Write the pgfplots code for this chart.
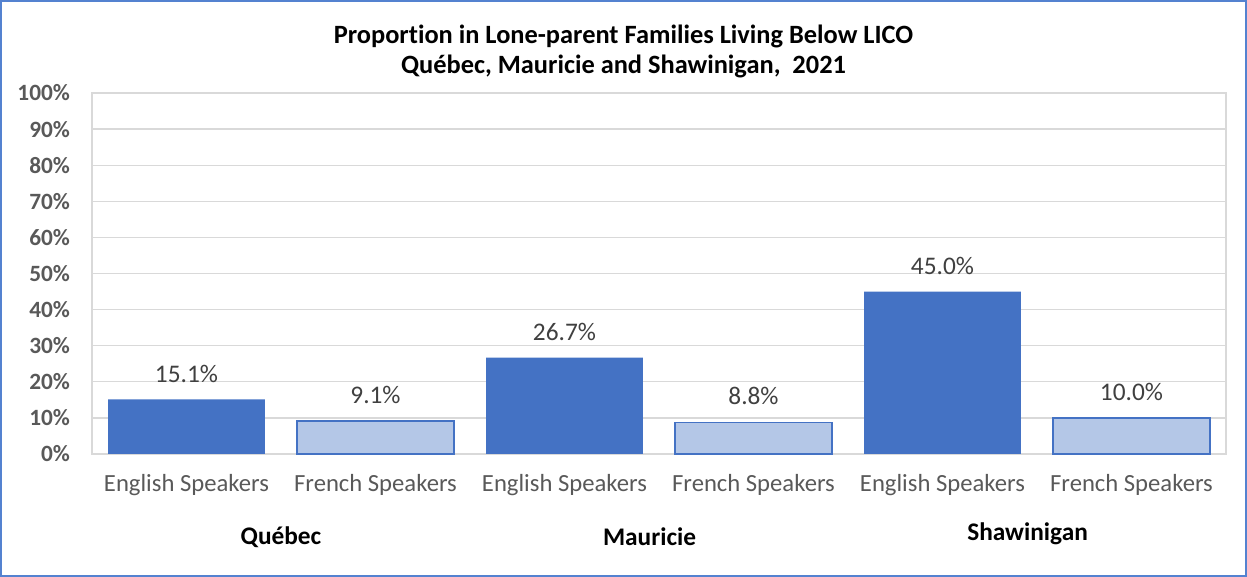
\documentclass[border=0pt]{standalone}
\usepackage{pgfplots}
\pgfplotsset{compat=1.18}
\usepackage{fontspec}
\setmainfont{Carlito}[Ligatures={NoCommon}]
\definecolor{engc}{HTML}{4472C4}
\definecolor{frc}{HTML}{B4C7E7}
\definecolor{gridc}{HTML}{D9D9D9}
\definecolor{tickc}{HTML}{595959}
\definecolor{labc}{HTML}{404040}
\definecolor{framec}{RGB}{84,130,208}
\begin{document}
\begin{tikzpicture}
\useasboundingbox (-69pt,-92.25pt) rectangle (866.25pt,340.5pt);
\draw[framec, line width=1.5pt] (-68.25pt,-91.5pt) rectangle (865.5pt,339.75pt);
\begin{axis}[
  at={(0,0)}, anchor=south west,
  scale only axis,
  width=850.5pt, height=270.75pt,
  xmin=-0.5, xmax=5.5,
  ymin=0, ymax=100,
  ytick={0,10,...,100},
  yticklabel={\pgfmathprintnumber{\tick}\%},
  /pgf/number format/assume math mode=true,
  yticklabel style={font=\fontsize{17.5}{20}\selectfont\bfseries, text=tickc, xshift=-13pt},
  xtick={0,1,2,3,4,5},
  xticklabels={English Speakers,French Speakers,English Speakers,French Speakers,English Speakers,French Speakers},
  xticklabel style={font=\fontsize{18.5}{21}\selectfont, text=tickc, yshift=-12pt},
  major tick length=0pt,
  axis line style={gridc, line width=1pt},
  ymajorgrids, grid style={gridc, line width=1pt},
  axis on top=false,
  bar width=0.83,
  ybar, bar shift=0pt,
  nodes near coords={\pgfmathprintnumber[fixed,precision=1,fixed zerofill]{\pgfplotspointmeta}\%},
  nodes near coords style={font=\fontsize{19}{22}\selectfont, text=labc, anchor=south, yshift=9pt},
  clip=false,
]
\addplot[fill=engc, draw=none] coordinates {(0,15.1) (2,26.7) (4,45.0)};
\addplot[fill=frc, draw=engc, line width=1pt] coordinates {(1,9.1) (3,8.8) (5,10.0)};
\node[font=\fontsize{19}{22}\selectfont\bfseries] at (axis cs:0.5,0) [yshift=-62.25pt] {Québec};
\node[font=\fontsize{19}{22}\selectfont\bfseries] at (axis cs:2.45,0) [yshift=-62.25pt] {Mauricie};
\node[font=\fontsize{19}{22}\selectfont\bfseries] at (axis cs:4.45,0) [yshift=-60pt] {Shawinigan};
\end{axis}
\node[font=\fontsize{19.8}{23}\selectfont\bfseries, align=center] at (398.6pt,301.9pt) {Proportion in Lone-parent Families Living Below LICO\\[0pt]Québec, Mauricie and Shawinigan, \ 2021};
\end{tikzpicture}
\end{document}
